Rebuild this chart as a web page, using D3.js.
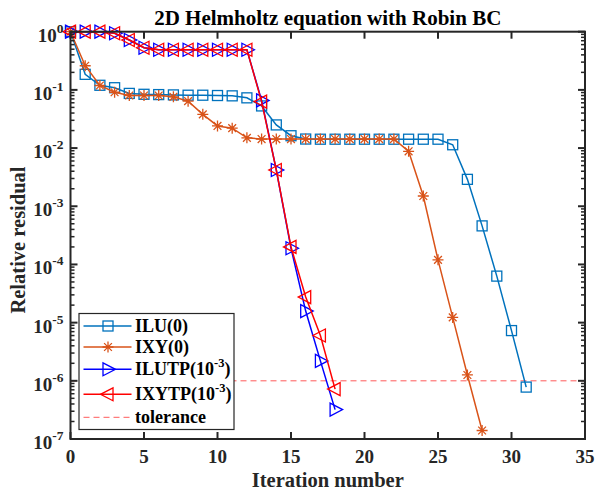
<!DOCTYPE html>
<html><head><meta charset="utf-8">
<script src="https://cdn.jsdelivr.net/npm/d3@7"></script>
<style>body{margin:0;background:#fff}text{font-family:"Liberation Serif","Times New Roman",serif;font-weight:bold}</style>
</head><body><svg id="c" width="595" height="492"></svg>
<script>
const xTicks = [0,5,10,15,20,25,30,35];
const yExps = [0,-1,-2,-3,-4,-5,-6,-7];
const iluVals = [1.0,0.185,0.12,0.109,0.087,0.084,0.083,0.082,0.081,0.081,0.080,0.079,0.073,0.053,0.025,0.0163,0.0143,0.0142,0.0142,0.0142,0.0142,0.0142,0.0142,0.0142,0.0142,0.0142,0.0114,0.0029,4.6e-4,6.3e-5,7.3e-6,7.8e-7];
const ixyVals = [1.0,0.26,0.119,0.091,0.08,0.08,0.08,0.076,0.064,0.038,0.024,0.022,0.015,0.0143,0.0143,0.0143,0.0143,0.0143,0.0143,0.0143,0.0143,0.0143,0.0143,0.0088,0.0015,1.2e-4,1.23e-5,1.26e-6,1.4e-7];
const ilutpVals = [1.0,1.0,1.0,0.94,0.72,0.53,0.49,0.49,0.49,0.49,0.49,0.49,0.49,0.066,0.0042,1.9e-4,1.58e-5,2.2e-6,3.2e-7];
const ixytpVals = [1.0,1.0,1.0,0.94,0.72,0.53,0.49,0.49,0.49,0.49,0.49,0.49,0.49,0.063,0.0042,2.0e-4,2.75e-5,6.0e-6,7.2e-7];
const tolerance = 1e-6;

const svg = d3.select("#c");
const L=70.5, R=585, T=31.7, B=439;
const x = d3.scaleLinear().domain([0,35]).range([L,R]);
const y = d3.scaleLog().domain([1e-7,1]).range([B,T]);

const series = [
 {vals:iluVals, color:"#0072BD", marker:"square"},
 {vals:ixyVals, color:"#D95319", marker:"star"},
 {vals:ilutpVals, color:"#0000FF", marker:"right"},
 {vals:ixytpVals, color:"#FF0000", marker:"left"}
];

function drawMarker(g, type, cx, cy, color){
  if(type==="square"){
    g.append("rect").attr("x",cx-5).attr("y",cy-5).attr("width",10).attr("height",10)
     .attr("fill","none").attr("stroke",color).attr("stroke-width",1.3);
  } else if(type==="star"){
    const r=5.5, d=r*0.707;
    g.append("path").attr("d",`M${cx-r},${cy}H${cx+r}M${cx},${cy-r}V${cy+r}M${cx-d},${cy-d}L${cx+d},${cy+d}M${cx-d},${cy+d}L${cx+d},${cy-d}`)
     .attr("stroke",color).attr("stroke-width",1.3).attr("fill","none");
  } else if(type==="right"){
    g.append("path").attr("d",`M${cx-5},${cy-6.5}L${cx+7.5},${cy}L${cx-5},${cy+6.5}Z`)
     .attr("fill","none").attr("stroke",color).attr("stroke-width",1.3);
  } else if(type==="left"){
    g.append("path").attr("d",`M${cx+5},${cy-6.5}L${cx-7.5},${cy}L${cx+5},${cy+6.5}Z`)
     .attr("fill","none").attr("stroke",color).attr("stroke-width",1.3);
  }
}

// tolerance
svg.append("line").attr("x1",x(0)).attr("x2",x(35)).attr("y1",y(tolerance)).attr("y2",y(tolerance))
  .attr("stroke","#FF5A5A").attr("stroke-width",1).attr("stroke-dasharray","6,4");

const line = d3.line().x((d,i)=>x(i)).y(d=>y(d));
series.forEach(s=>{
  svg.append("path").datum(s.vals).attr("d",line).attr("fill","none").attr("stroke",s.color).attr("stroke-width",1.5);
  const g = svg.append("g");
  s.vals.forEach((v,i)=>drawMarker(g,s.marker,x(i),y(v),s.color));
});

// axes box
const ax = svg.append("g");
const axc="#262626";
ax.append("rect").attr("x",L).attr("y",T).attr("width",R-L).attr("height",B-T)
  .attr("fill","none").attr("stroke",axc).attr("stroke-width",2);
xTicks.forEach(t=>{
  ax.append("line").attr("x1",x(t)).attr("x2",x(t)).attr("y1",B).attr("y2",B-7).attr("stroke",axc).attr("stroke-width",2);
  ax.append("line").attr("x1",x(t)).attr("x2",x(t)).attr("y1",T).attr("y2",T+7).attr("stroke",axc).attr("stroke-width",2);
  ax.append("text").attr("x",x(t)).attr("y",463).attr("text-anchor","middle").attr("font-size",19).attr("fill",axc).text(t);
});
yExps.forEach(e=>{
  const v=Math.pow(10,e);
  ax.append("line").attr("x1",L).attr("x2",L+7).attr("y1",y(v)).attr("y2",y(v)).attr("stroke",axc).attr("stroke-width",2);
  ax.append("line").attr("x1",R).attr("x2",R-7).attr("y1",y(v)).attr("y2",y(v)).attr("stroke",axc).attr("stroke-width",2);
  if(e>-7){
    for(let k=2;k<10;k++){
      const mv=k*v/10;
      ax.append("line").attr("x1",L).attr("x2",L+4).attr("y1",y(mv)).attr("y2",y(mv)).attr("stroke",axc).attr("stroke-width",1.5);
      ax.append("line").attr("x1",R).attr("x2",R-4).attr("y1",y(mv)).attr("y2",y(mv)).attr("stroke",axc).attr("stroke-width",1.5);
    }
  }
  const tx = ax.append("text").attr("x",L-7).attr("y",y(v)+10).attr("text-anchor","end").attr("font-size",19).attr("fill",axc);
  tx.append("tspan").text("10");
  tx.append("tspan").attr("dy",-9).attr("font-size",13.5).text(String(e));
});

// labels
svg.append("text").attr("x",(L+R)/2).attr("y",25).attr("text-anchor","middle").attr("font-size",21).attr("fill","#000").text("2D Helmholtz equation with Robin BC");
svg.append("text").attr("x",(L+R)/2).attr("y",487).attr("text-anchor","middle").attr("font-size",20.5).attr("fill",axc).text("Iteration number");
svg.append("text").attr("transform",`translate(25,240) rotate(-90)`).attr("text-anchor","middle").attr("font-size",20.5).attr("fill",axc).text("Relative residual");

// legend
const lg = svg.append("g");
lg.append("rect").attr("x",79).attr("y",313.5).attr("width",155).attr("height",116).attr("fill","#fff").attr("stroke",axc).attr("stroke-width",1.2);
const legY=[326,347,369.3,394.3,417.3];
const legItems=[
 {lab:["ILU(0)"],color:"#0072BD",marker:"square"},
 {lab:["IXY(0)"],color:"#D95319",marker:"star"},
 {lab:["ILUTP(10","-3",")"],color:"#0000FF",marker:"right"},
 {lab:["IXYTP(10","-3",")"],color:"#FF0000",marker:"left"}
];
legItems.forEach((it,i)=>{
  lg.append("line").attr("x1",83.5).attr("x2",131.5).attr("y1",legY[i]).attr("y2",legY[i]).attr("stroke",it.color).attr("stroke-width",1.6);
  drawMarker(lg,it.marker,108,legY[i],it.color);
  const t=lg.append("text").attr("x",135).attr("y",legY[i]+6).attr("font-size",18).attr("fill","#000");
  t.append("tspan").text(it.lab[0]);
  if(it.lab.length>1){
    t.append("tspan").attr("dy",-8).attr("font-size",12.5).text(it.lab[1]);
    t.append("tspan").attr("dy",8).text(it.lab[2]);
  }
});
lg.append("line").attr("x1",83.5).attr("x2",131.5).attr("y1",legY[4]).attr("y2",legY[4]).attr("stroke","#FF5A5A").attr("stroke-width",1).attr("stroke-dasharray","6,4");
lg.append("text").attr("x",135).attr("y",legY[4]+6).attr("font-size",18).attr("fill","#000").text("tolerance");
</script></body></html>
